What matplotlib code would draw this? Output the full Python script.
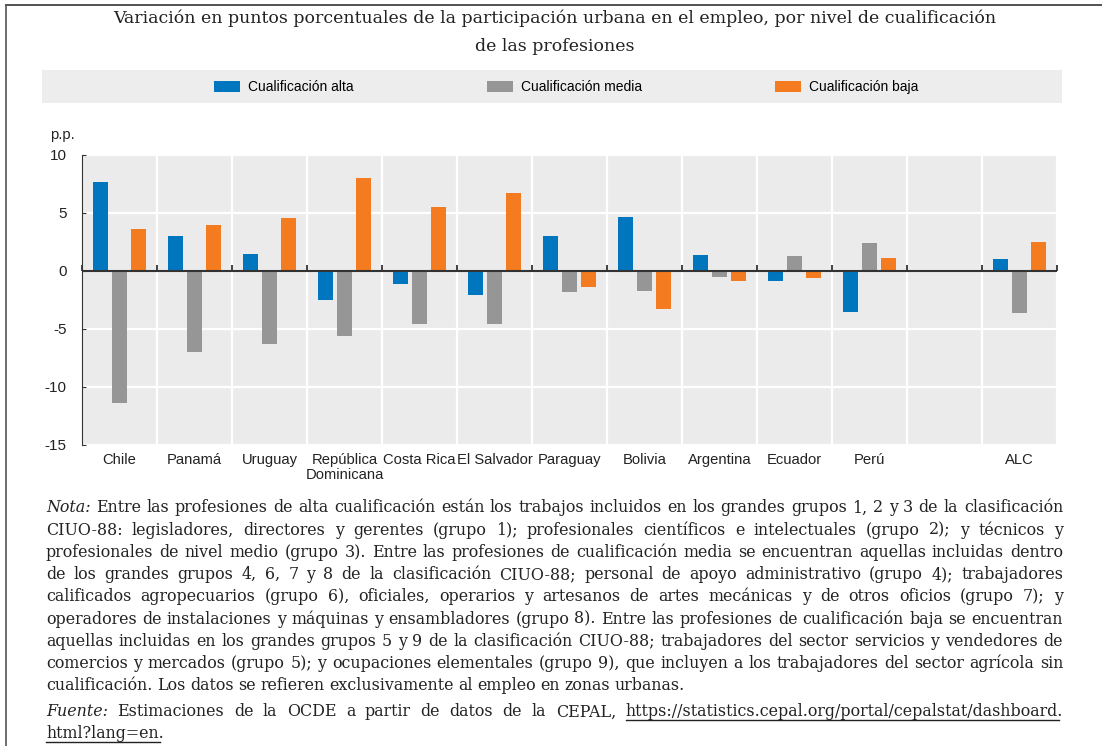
import numpy as np
import matplotlib
matplotlib.use("Agg")
import matplotlib.pyplot as plt
from matplotlib.patches import Rectangle, Patch
from matplotlib.lines import Line2D

plt.rcParams["axes.unicode_minus"] = False

# data (percentage points)
paises = ["Chile", "Panamá", "Uruguay", "República\nDominicana", "Costa Rica",
          "El Salvador", "Paraguay", "Bolivia", "Argentina", "Ecuador", "Perú", "", "ALC"]
alta = [7.65, 2.98, 1.46, -2.52, -1.12, -2.09, 3.04, 4.64, 1.38, -0.83, -3.55, np.nan, 1.0]
media = [-11.4, -7.02, -6.3, -5.62, -4.58, -4.58, -1.83, -1.72, -0.54, 1.26, 2.38, np.nan, -3.64]
baja = [3.64, 3.95, 4.56, 8.02, 5.56, 6.76, -1.40, -3.24, -0.83, -0.60, 1.09, np.nan, 2.49]
series = ["Cualificación alta", "Cualificación media", "Cualificación baja"]
colores = ["#0076BE", "#969696", "#F47B20"]
yticks = [-15, -10, -5, 0, 5, 10]

titulo = ("Variación en puntos porcentuales de la participación urbana en el empleo, por nivel de cualificación\n"
          "de las profesiones")

nota_lineas = [
    "Nota: Entre las profesiones de alta cualificación están los trabajos incluidos en los grandes grupos 1, 2 y 3 de la clasificación",
    "CIUO-88: legisladores, directores y gerentes (grupo 1); profesionales científicos e intelectuales (grupo 2); y técnicos y",
    "profesionales de nivel medio (grupo 3). Entre las profesiones de cualificación media se encuentran aquellas incluidas dentro",
    "de los grandes grupos 4, 6, 7 y 8 de la clasificación CIUO-88; personal de apoyo administrativo (grupo 4); trabajadores",
    "calificados agropecuarios (grupo 6), oficiales, operarios y artesanos de artes mecánicas y de otros oficios (grupo 7); y",
    "operadores de instalaciones y máquinas y ensambladores (grupo 8). Entre las profesiones de cualificación baja se encuentran",
    "aquellas incluidas en los grandes grupos 5 y 9 de la clasificación CIUO-88; trabajadores del sector servicios y vendedores de",
    "comercios y mercados (grupo 5); y ocupaciones elementales (grupo 9), que incluyen a los trabajadores del sector agrícola sin",
    "cualificación. Los datos se refieren exclusivamente al empleo en zonas urbanas.",
    "Fuente: Estimaciones de la OCDE a partir de datos de la CEPAL, https://statistics.cepal.org/portal/cepalstat/dashboard.",
    "html?lang=en.",
]
justificar = [True] * 8 + [False, True, False]
cursivas = {"Nota:", "Fuente:"}
enlaces = {"https://statistics.cepal.org/portal/cepalstat/dashboard.", "html?lang=en."}

sans = ["Liberation Sans", "DejaVu Sans"]
serif = ["DejaVu Serif"]

W, H = 1102, 746
fig = plt.figure(figsize=(W / 100, H / 100), dpi=100)

# page frame (top and left edges)
fig.add_artist(Line2D([6 / W, 1], [1 - 5 / H, 1 - 5 / H], color="#333333", lw=1.2))
fig.add_artist(Line2D([6 / W, 6 / W], [0, 1 - 5 / H], color="#555555", lw=1.2))

fig.text(555 / W, 1 - 32 / H, titulo, ha="center", va="center", family=serif,
         fontsize=12.5, color="#222222", linespacing=1.85)

# legend band
fig.add_artist(Rectangle((42 / W, 1 - 103 / H), 1020 / W, 33 / H, transform=fig.transFigure,
                         facecolor="#EDEDED", edgecolor="none"))
handles = [Patch(facecolor=c, edgecolor="none") for c in colores]
fig.legend(handles, series, loc="center", bbox_to_anchor=(566 / W, 1 - 87 / H), ncol=3,
           frameon=False, prop={"family": sans, "size": 10}, handlelength=1.9,
           handleheight=0.85, handletextpad=0.55, columnspacing=9.6)

ax = fig.add_axes([82 / W, 1 - 445 / H, 975 / W, 290 / H])
ax.set_facecolor("#EBEBEB")
x = np.arange(len(paises))
ancho = 0.2
for k, (vals, c) in enumerate(zip([alta, media, baja], colores)):
    ax.bar(x + (k - 1) * 0.253, vals, width=ancho, color=c, zorder=3)

ax.set_xlim(-0.5, len(paises) - 0.5)
ax.set_ylim(-15, 10)
ax.set_yticks(yticks)
ax.set_xticks(x)
ax.set_xticklabels(paises, family=sans, fontsize=10.6, color="#222222", linespacing=1.05)
ax.set_xticks(np.arange(len(paises) + 1) - 0.5, minor=True)
ax.tick_params(axis="x", which="both", length=0, pad=6)
ax.tick_params(axis="y", direction="in", length=3, pad=11, color="#333333",
               labelsize=11, labelcolor="#222222")
for lab in ax.get_yticklabels():
    lab.set_family(sans)
ax.grid(True, which="major", axis="y", color="white", lw=1.6, zorder=1)
ax.grid(True, which="minor", axis="x", color="white", lw=1.6, zorder=1)
for s in ["top", "right", "bottom"]:
    ax.spines[s].set_visible(False)
ax.spines["left"].set_color("#333333")

# zero line with category separators
ax.axhline(0, color="#333333", lw=1.5, zorder=4)
eje0 = ax.secondary_xaxis(0, transform=ax.transData)
eje0.set_zorder(5)
eje0.set_xticks(np.arange(len(paises) + 1) - 0.5)
eje0.tick_params(direction="in", length=4, width=1.3, color="#333333", labelbottom=False)
eje0.spines["bottom"].set_visible(False)

fig.text(50 / W, 1 - 135 / H, "p.p.", family=sans, fontsize=10.6, color="#222222",
         ha="left", va="center")

# justified note text, laid out word by word
fig.canvas.draw()
renderer = fig.canvas.get_renderer()
x0, x1 = 46, 1063
y_lin = [508 + 22.2 * i for i in range(9)] + [712, 734]
for linea, just, yy in zip(nota_lineas, justificar, y_lin):
    palabras = linea.split(" ")
    objs = []
    for p in palabras:
        t = fig.text(0, 1 - yy / H, p, family=serif, fontsize=11.4, color="#222222",
                     style="italic" if p in cursivas else "normal", va="center", ha="left")
        objs.append(t)
    anchos = [t.get_window_extent(renderer).width for t in objs]
    if just:
        hueco = (x1 - x0 - sum(anchos)) / (len(objs) - 1)
    else:
        hueco = 4.6
    pos = x0
    for t, a, p in zip(objs, anchos, palabras):
        t.set_x(pos / W)
        if p in enlaces:
            fig.add_artist(Line2D([pos / W, (pos + a - (4 if p.endswith(".") else 0)) / W],
                                  [1 - (yy + 8) / H] * 2, color="#222222", lw=1.0))
        pos += a + hueco

fig.savefig("out.png", dpi=100)
